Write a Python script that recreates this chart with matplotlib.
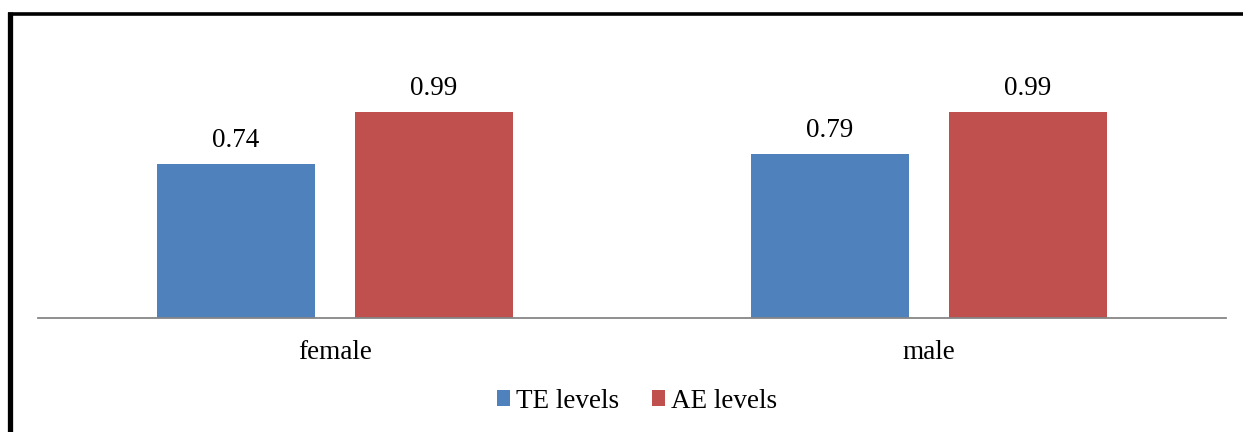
import matplotlib.pyplot as plt
import numpy as np
from matplotlib.lines import Line2D

groups = ['female', 'male']
te_levels = [0.74, 0.79]
ae_levels = [0.99, 0.99]

plt.rcParams['font.family'] = ['Liberation Serif', 'DejaVu Serif']

W, H = 1243, 432
fig = plt.figure(figsize=(W / 100, H / 100), dpi=100)

# plot area in pixels: x 38..1226, baseline at y=318
left, right, base = 38, 1226, 318
ytop = 1.2
unit = 208
ax = fig.add_axes([left / W, 1 - base / H, (right - left) / W, ytop * unit / H])

x = np.arange(len(groups))
w = 0.266
off = 0.1667
b1 = ax.bar(x - off, te_levels, w, color='#4F81BD', label='TE levels')
b2 = ax.bar(x + off, ae_levels, w, color='#C0504D', label='AE levels')

for bars, vals in ((b1, te_levels), (b2, ae_levels)):
    for r, v in zip(bars, vals):
        ax.annotate('%.2f' % v, (r.get_x() + r.get_width() / 2, v),
                    xytext=(0, 8), textcoords='offset points',
                    ha='center', va='bottom', fontsize=19.5)

ax.set_xlim(-0.5, 1.5)
ax.set_ylim(0, ytop)
ax.set_xticks(x)
ax.set_xticklabels(groups, fontsize=19.5)
ax.tick_params(axis='x', length=0, pad=16)
ax.set_yticks([])
for s in ('top', 'right', 'left'):
    ax.spines[s].set_visible(False)
ax.spines['bottom'].set_color('#868686')
ax.spines['bottom'].set_linewidth(1.3)

fig.legend(handles=[b1, b2], loc='center', bbox_to_anchor=(637 / W, 1 - 401 / H),
           ncol=2, frameon=False, fontsize=19.5, handlelength=0.5, handleheight=0.5,
           handletextpad=0.22, columnspacing=1.2)

# outer frame: top and left edges
fig.add_artist(Line2D([7.5 / W, 1], [1 - 13.5 / H, 1 - 13.5 / H], color='black', lw=2.6,
                      solid_capstyle='butt', transform=fig.transFigure))
fig.add_artist(Line2D([10 / W, 10 / W], [0, 1 - 12 / H], color='black', lw=3.8,
                      solid_capstyle='butt', transform=fig.transFigure))

fig.savefig('out.png', dpi=100)
